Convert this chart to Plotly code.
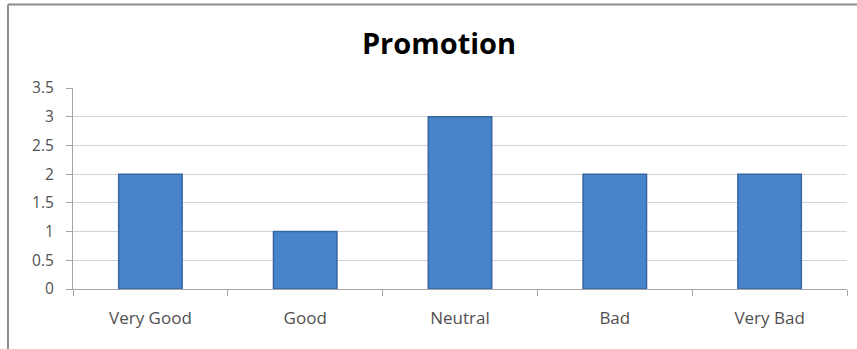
import plotly.graph_objects as go

categories = ["Very Good", "Good", "Neutral", "Bad", "Very Bad"]
values = [2, 1, 3, 2, 2]
y_ticks = [0, 0.5, 1, 1.5, 2, 2.5, 3, 3.5]
y_tick_labels = ["0", "0.5", "1", "1.5", "2", "2.5", "3", "3.5"]

fig = go.Figure()
fig.add_trace(go.Bar(
    x=categories, y=values, width=0.41,
    marker=dict(color="#4784CC", line=dict(color="#36679F", width=1.5)),
    hoverinfo="x+y",
))

fig.update_layout(
    width=857, height=349,
    margin=dict(l=73, r=10, t=88, b=60),
    paper_bgcolor="white", plot_bgcolor="white",
    showlegend=False,
    title=dict(text="<b>Promotion</b>", x=439/857, xanchor="center", y=1 - 44/349, yanchor="middle",
               font=dict(family="Open Sans, sans-serif", size=29, color="#000000")),
    font=dict(family="Open Sans, sans-serif", size=15, color="#505050"),
    bargap=0.59,
)
fig.update_xaxes(
    type="category", showgrid=False, showline=True, linecolor="#A6A6A6", linewidth=1,
    ticks="outside", tickson="boundaries", ticklen=6, tickcolor="#A6A6A6",
    ticklabelstandoff=14, tickfont=dict(size=17, color="#505050"),
)
fig.update_yaxes(
    range=[0, 3.5], tickvals=y_ticks, ticktext=y_tick_labels,
    showgrid=True, gridcolor="#D4D4D4", gridwidth=1,
    showline=True, linecolor="#A6A6A6", linewidth=1,
    ticks="outside", ticklen=6, tickcolor="#A6A6A6",
    ticklabelstandoff=9, tickfont=dict(size=15.5, color="#505050"),
    zeroline=False,
)
# chart-area frame (top and left edges)
fig.add_shape(type="line", xref="paper", yref="paper", x0=-0.084, x1=1.05, y0=1.415, y1=1.415,
              line=dict(color="#8C8C8C", width=2))
fig.add_shape(type="line", xref="paper", yref="paper", x0=-0.084, x1=-0.084, y0=1.415, y1=-0.35,
              line=dict(color="#8C8C8C", width=2))

fig.write_html("out.html")
